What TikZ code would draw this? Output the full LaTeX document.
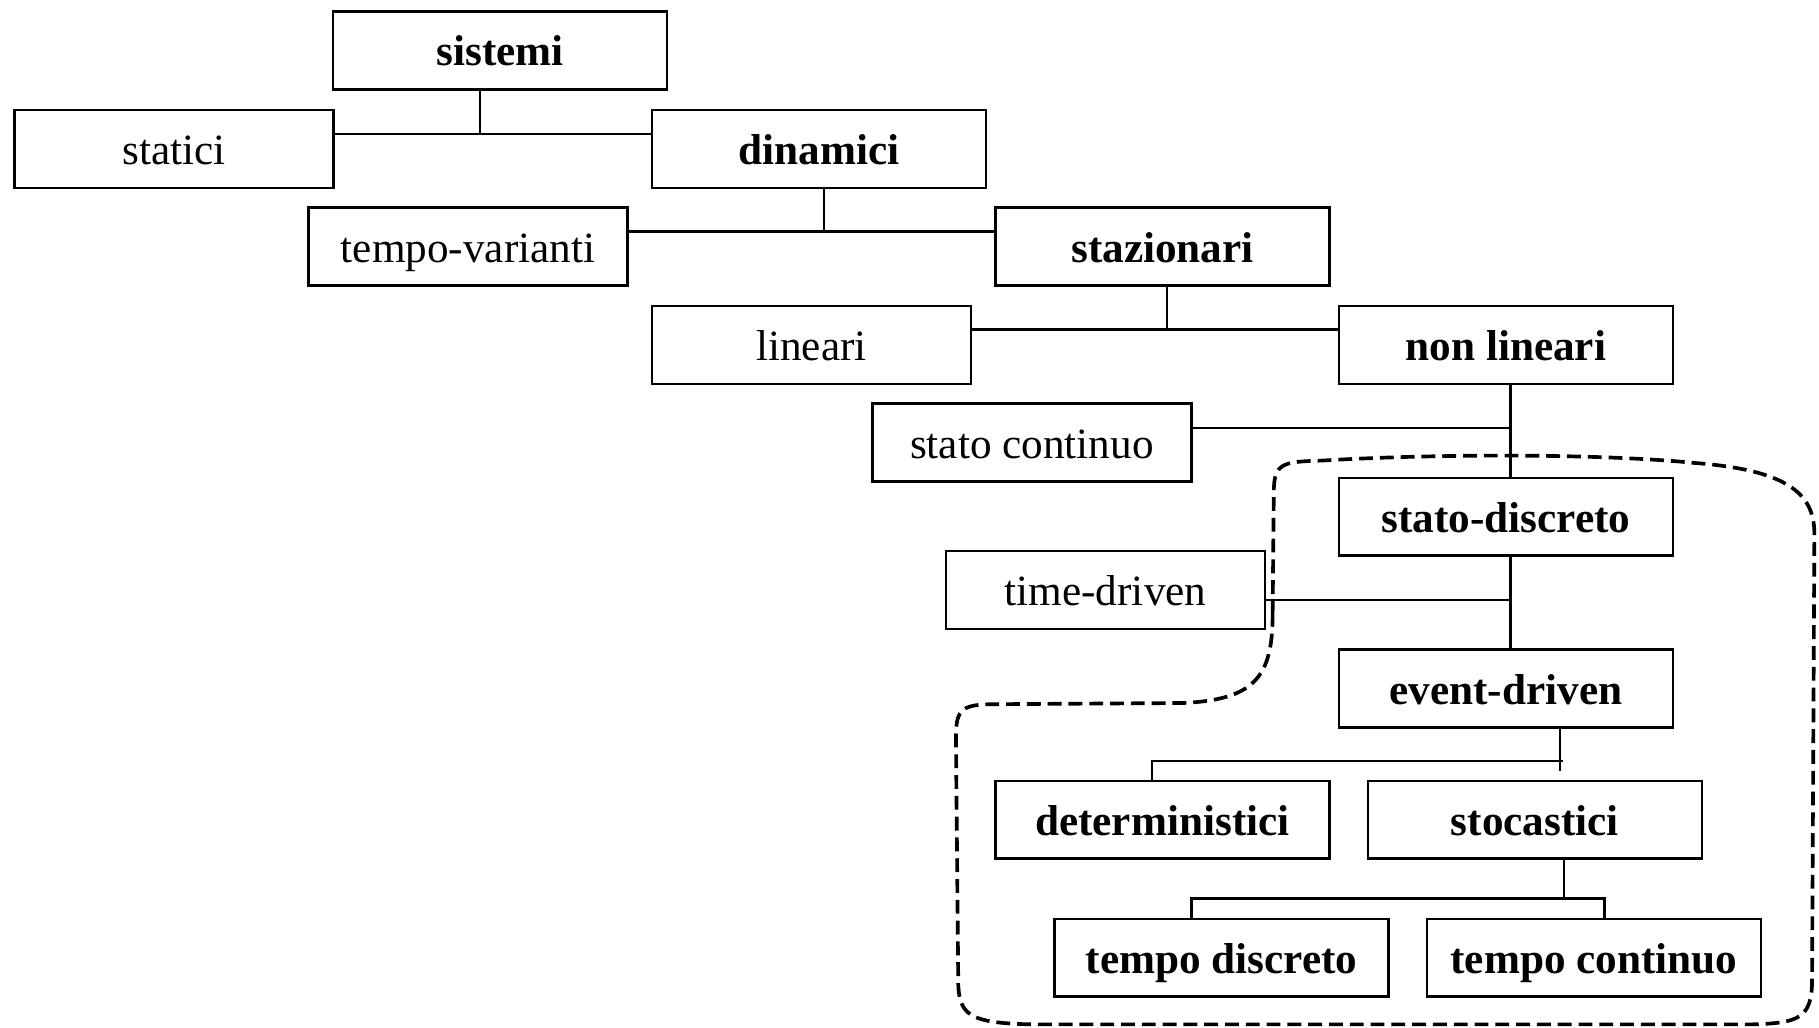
\documentclass[tikz,border=0pt]{standalone}
\usepackage{fontspec}
\setmainfont{Liberation Serif}

\begin{document}
\begin{tikzpicture}[
  x=1cm,
  y=-1cm,
  every node/.style={font=\fontsize{10.6}{12}\selectfont},
  plainbox/.style={draw, line width=0.6pt, minimum width=2.75cm,
    minimum height=0.67cm, inner sep=0pt, text height=8pt, text depth=0.4pt},
  boldbox/.style={plainbox, minimum width=2.88cm,
    font=\fontsize{10.6}{12}\selectfont\bfseries},
  link/.style={line width=0.55pt},
  group/.style={line width=0.9pt, dash pattern=on 3.4pt off 1.7pt}
]
  % ---- page frame -------------------------------------------------------
  \useasboundingbox (0,0) rectangle (15.68,8.86);

  % ---- the boxes, row by row -------------------------------------------
  \node[boldbox]  (sistemi)     at ( 4.31,0.435) {sistemi};
  \node[plainbox] (statici)     at ( 1.50,1.285) {statici};
  \node[boldbox]  (dinamici)    at ( 7.06,1.285) {dinamici};
  \node[plainbox] (varianti)    at ( 4.035,2.125) {tempo-varianti};
  \node[boldbox]  (stazionari)  at (10.02,2.125) {stazionari};
  \node[plainbox] (lineari)     at ( 6.995,2.975) {lineari};
  \node[boldbox]  (nonlineari)  at (12.98,2.975) {non lineari};
  \node[plainbox] (continuo)    at ( 8.895,3.815) {stato continuo};
  \node[boldbox]  (discreto)    at (12.98,4.455) {stato-discreto};
  \node[plainbox] (timedriven)  at ( 9.53,5.085) {time-driven};
  \node[boldbox]  (eventdriven) at (12.98,5.935) {event-driven};
  \node[boldbox]  (determ)      at (10.02,7.065) {deterministici};
  \node[boldbox]  (stocastici)  at (13.23,7.065) {stocastici};
  \node[boldbox]  (tdiscreto)   at (10.53,8.255) {tempo discreto};
  \node[boldbox]  (tcontinuo)   at (13.74,8.255) {tempo continuo};

  % ---- junctions where a parent splits ---------------------------------
  \coordinate (j1) at ( 4.14,1.155);
  \coordinate (j2) at ( 7.10,1.995);
  \coordinate (j3) at (10.06,2.84);
  \coordinate (j4) at (13.02,3.69);
  \coordinate (j5) at (13.02,5.17);
  \coordinate (j6) at (13.45,6.56);
  \coordinate (j6l) at (9.93,6.56);
  \coordinate (j7) at (13.48,7.745);
  \coordinate (j7l) at (10.27,7.745);
  \coordinate (j7r) at (13.83,7.745);

  % ---- tree links --------------------------------------------------------
  \draw[link] (sistemi.south -| j1) -- (j1);
  \draw[link] (statici.east |- j1) -- (dinamici.west |- j1);

  \draw[link] (dinamici.south -| j2) -- (j2);
  \draw[link] (varianti.east |- j2) -- (stazionari.west |- j2);

  \draw[link] (stazionari.south -| j3) -- (j3);
  \draw[link] (lineari.east |- j3) -- (nonlineari.west |- j3);

  \draw[link] (nonlineari.south -| j4) -- (discreto.north -| j4);
  \draw[link] (continuo.east |- j4) -- (j4);

  \draw[link] (discreto.south -| j5) -- (eventdriven.north -| j5);
  \draw[link] (timedriven.east |- j5) -- (j5);

  \draw[link] (eventdriven.south -| j6) -- ([yshift=-0.09cm]j6);
  \draw[link] ([xshift=0.02cm]j6) -- (j6l) -- (determ.north -| j6l);

  \draw[link] (stocastici.south -| j7) -- (j7);
  \draw[link] (tdiscreto.north -| j7l) -- (j7l) -- (j7r)
    -- (tcontinuo.north -| j7r);

  % ---- dashed outline round the discrete-state part --------------------
  \draw[group]
    (10.97,5.30) -- (10.98,4.25)
    .. controls (10.98,3.99) and (11.05,3.98) .. (11.40,3.97)
    .. controls (12.40,3.91) and (13.80,3.91) .. (14.60,3.99)
    .. controls (15.40,4.05) and (15.64,4.25) .. (15.64,4.60)
    -- (15.62,8.45)
    .. controls (15.62,8.78) and (15.50,8.82) .. (15.10,8.83)
    -- (8.90,8.83)
    .. controls (8.35,8.82) and (8.26,8.75) .. (8.26,8.45)
    -- (8.24,6.35)
    .. controls (8.24,6.10) and (8.30,6.07) .. (8.60,6.07)
    -- (10.20,6.06)
    .. controls (10.80,6.03) and (10.97,5.85) .. cycle;

\end{tikzpicture}
\end{document}
